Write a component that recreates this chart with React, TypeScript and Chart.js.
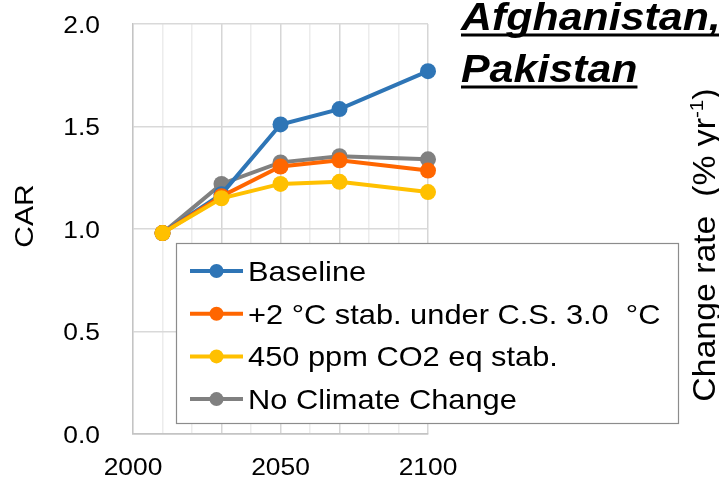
import React, { useEffect, useRef } from 'react';
import { Chart, registerables } from 'chart.js';

Chart.register(...registerables);

// Projection years and CAR values per scenario
const years = [2010, 2030, 2050, 2070, 2100];
const baseline = [0.98, 1.17, 1.51, 1.585, 1.77];
const stab2C = [0.98, 1.16, 1.305, 1.335, 1.285];
const ppm450 = [0.98, 1.15, 1.22, 1.23, 1.18];
const noClimateChange = [0.98, 1.22, 1.325, 1.355, 1.34];

const seriesNames = [
  'Baseline',
  '+2 °C stab. under C.S. 3.0  °C',
  '450 ppm CO2 eq stab.',
  'No Climate Change',
];
const seriesColors = ['#2E75B6', '#FF6600', '#FFC000', '#808080'];
// lower value = painted later (on top)
const paintOrder = [2, 1, 0, 3];

const xLabelYears = [2000, 2050, 2100];
const majorGridYears = [2030, 2050, 2070, 2100];
const titleLines = ['Afghanistan,', 'Pakistan'];
const yAxisTitle = 'CAR';
const rightTitle = ['Change rate  (% yr', '-1', ')'];

const FONT = '"Liberation Sans", Arial, sans-serif';

// text drawn slightly widened along its own direction
function wideText(
  ctx: CanvasRenderingContext2D,
  text: string,
  x: number,
  y: number,
  font: string,
  align: 'left' | 'center' | 'right',
  sx: number,
) {
  ctx.save();
  ctx.font = font;
  ctx.textBaseline = 'alphabetic';
  ctx.textAlign = align;
  ctx.translate(x, y);
  ctx.scale(sx, 1);
  ctx.fillText(text, 0, 0);
  ctx.restore();
}

const decorPlugin = {
  id: 'decor',
  afterDraw(chart: any) {
    const ctx: CanvasRenderingContext2D = chart.ctx;
    const xs = chart.scales.x;
    const ys = chart.scales.y;
    ctx.save();
    ctx.fillStyle = '#000000';

    // y tick labels
    const tickFont = `24px ${FONT}`;
    ys.ticks.forEach((t: any) => {
      const py = ys.getPixelForValue(t.value);
      wideText(ctx, Number(t.value).toFixed(1), 100, py + 8.6, tickFont, 'right', 1.1);
    });
    // x tick labels
    xLabelYears.forEach((yr) => {
      const px = xs.getPixelForValue(yr);
      wideText(ctx, String(yr), px, 475, tickFont, 'center', 1.1);
    });

    // legend box
    const lx = 176, ly = 243, lw = 502, lh = 180;
    ctx.fillStyle = '#ffffff';
    ctx.fillRect(lx, ly, lw, lh);
    ctx.strokeStyle = '#8c8c8c';
    ctx.lineWidth = 1.2;
    ctx.strokeRect(lx + 0.5, ly + 0.5, lw, lh);

    const datasets = chart.data.datasets;
    const rowY0 = 271;
    const rowStep = 42.7;
    datasets.forEach((ds: any, i: number) => {
      const y = rowY0 + i * rowStep;
      ctx.strokeStyle = ds.borderColor;
      ctx.lineWidth = 4;
      ctx.lineCap = 'butt';
      ctx.beginPath();
      ctx.moveTo(190, y);
      ctx.lineTo(243, y);
      ctx.stroke();
      ctx.fillStyle = ds.backgroundColor;
      ctx.beginPath();
      ctx.arc(216.5, y, 7, 0, Math.PI * 2);
      ctx.fill();
      ctx.fillStyle = '#000000';
      wideText(ctx, ds.label, 248, y + 10, `28px ${FONT}`, 'left', 1.1);
    });

    // region title, bold italic underlined
    const titleFont = `italic bold 39px ${FONT}`;
    const titleX = 461;
    const baselines = [30, 82];
    ctx.fillStyle = '#000000';
    titleLines.forEach((t, i) => {
      wideText(ctx, t, titleX, baselines[i], titleFont, 'left', 1.1);
      ctx.font = titleFont;
      const w = ctx.measureText(t).width * 1.1;
      ctx.fillRect(titleX, baselines[i] + 3.5, w, 3);
    });

    // left axis title
    ctx.save();
    ctx.translate(33, 216);
    ctx.rotate(-Math.PI / 2);
    wideText(ctx, yAxisTitle, 0, 0, `25px ${FONT}`, 'center', 1.2);
    ctx.restore();

    // right axis title with superscript
    ctx.save();
    ctx.translate(715, 245);
    ctx.rotate(-Math.PI / 2);
    ctx.scale(1.09, 1);
    ctx.textAlign = 'left';
    ctx.textBaseline = 'alphabetic';
    const mainFont = `31px ${FONT}`;
    const supFont = `19px ${FONT}`;
    ctx.font = mainFont;
    const w0 = ctx.measureText(rightTitle[0]).width;
    const w2 = ctx.measureText(rightTitle[2]).width;
    ctx.font = supFont;
    const w1 = ctx.measureText(rightTitle[1]).width;
    let x = -(w0 + w1 + w2) / 2;
    ctx.font = mainFont;
    ctx.fillText(rightTitle[0], x, 0);
    x += w0;
    ctx.font = supFont;
    ctx.fillText(rightTitle[1], x, -12);
    x += w1;
    ctx.font = mainFont;
    ctx.fillText(rightTitle[2], x, 0);
    ctx.restore();

    ctx.restore();
  },
};

export default function App() {
  const canvasRef = useRef<HTMLCanvasElement | null>(null);

  useEffect(() => {
    document.body.style.margin = '0';
    const canvas = canvasRef.current;
    if (!canvas) return;
    const series = [baseline, stab2C, ppm450, noClimateChange];
    const chart = new Chart(canvas, {
      type: 'line',
      data: {
        datasets: series.map((vals, i) => ({
          label: seriesNames[i],
          data: years.map((yr, j) => ({ x: yr, y: vals[j] })),
          borderColor: seriesColors[i],
          backgroundColor: seriesColors[i],
          borderWidth: 4,
          pointRadius: 8,
          pointHoverRadius: 8,
          pointBorderWidth: 0,
          tension: 0,
          clip: false as any,
          order: paintOrder[i],
        })),
      },
      options: {
        responsive: false,
        animation: false,
        events: [],
        layout: { padding: { top: 24, right: 291, left: 0, bottom: 0 } },
        plugins: {
          legend: { display: false },
          tooltip: { enabled: false },
          title: { display: false },
        },
        scales: {
          x: {
            type: 'linear',
            min: 2000,
            max: 2100,
            afterFit: (scale: any) => {
              scale.height = 45;
            },
            ticks: { stepSize: 10, display: false },
            grid: {
              drawTicks: false,
              lineWidth: 1.5,
              color: (c: any) =>
                majorGridYears.includes(c.tick?.value) ? '#d6d6d6' : '#ececec',
            },
            border: { display: true, color: '#c4c4c4', width: 1.5 },
          },
          y: {
            min: 0,
            max: 2,
            afterFit: (scale: any) => {
              scale.width = 133;
            },
            ticks: { stepSize: 0.5, display: false },
            grid: {
              drawTicks: false,
              lineWidth: 1.5,
              color: (c: any) => (c.tick?.value === 0 ? '#c4c4c4' : '#d9d9d9'),
            },
            border: { display: true, color: '#c4c4c4', width: 1.5 },
          },
        },
      },
      plugins: [decorPlugin],
    });
    return () => chart.destroy();
  }, []);

  return (
    <div style={{ position: 'absolute', left: 0, top: 0, width: 719, height: 479, background: '#ffffff' }}>
      <canvas ref={canvasRef} width={719} height={479} />
    </div>
  );
}
